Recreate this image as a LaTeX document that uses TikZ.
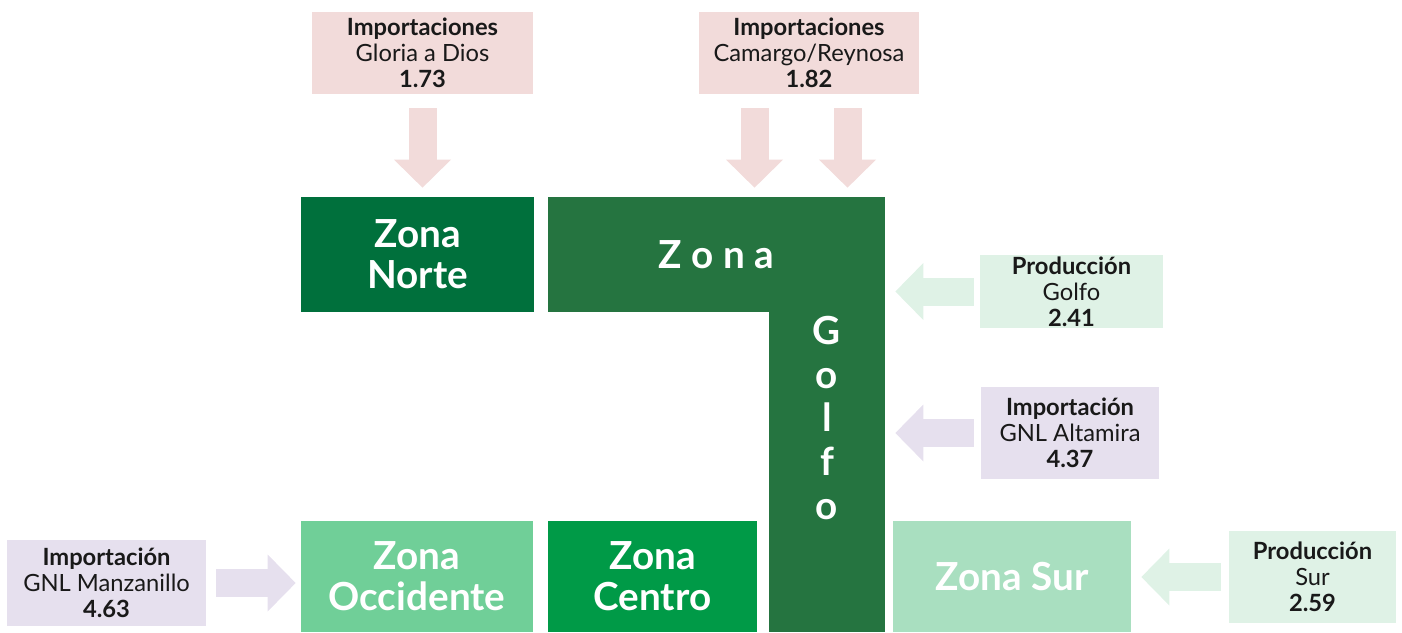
\documentclass[tikz,border=0pt]{standalone}
\usepackage{fontspec}
\setmainfont{Lato}
\usetikzlibrary{arrows.meta,positioning}
\definecolor{rosa}{HTML}{F2DBDA}
\definecolor{verdeclaro}{HTML}{DFF2E6}
\definecolor{lila}{HTML}{E6E0EE}
\definecolor{vnorte}{HTML}{00703C}
\definecolor{vgolfo}{HTML}{257440}
\definecolor{vcentro}{HTML}{009A47}
\definecolor{voccidente}{HTML}{70CF98}
\definecolor{vsur}{HTML}{A9DFC0}
\newcommand{\fuente}[1]{\textbf{#1}}

\tikzset{
  size/.style 2 args={minimum width=#1*0.02cm, minimum height=#2*0.02cm, inner sep=0pt},
  zone/.style={text=white, align=center, font=\fontsize{22}{23.5}\selectfont\bfseries},
  source/.style={text=black!90, align=center, font=\fontsize{13.5}{14.8}\selectfont},
  fatarrow/.style={line width=0.56cm, -{Triangle[width=1.14cm,length=0.56cm,line width=0pt]}}
}

\begin{document}
\begin{tikzpicture}[x=0.02cm, y=-0.02cm]
  \useasboundingbox (0,0) rectangle (1402,632);

  % fuentes de suministro
  \node[source, fill=rosa, size={221}{82}] (gloria) at (422.5,53) {\fuente{Importaciones}\\Gloria a Dios\\\fuente{1.73}};
  \node[source, fill=rosa, size={220}{82}] (camargo) at (809,53) {\fuente{Importaciones}\\Camargo/Reynosa\\\fuente{1.82}};
  \node[source, fill=verdeclaro, size={183}{73}] (prodgolfo) at (1071.5,291.5) {\fuente{Producción}\\Golfo\\\fuente{2.41}};
  \node[source, fill=lila, size={178}{92}] (altamira) at (1070,433) {\fuente{Importación}\\GNL Altamira\\\fuente{4.37}};
  \node[source, fill=verdeclaro, size={167}{92}] (prodsur) at (1312.5,577) {\fuente{Producción}\\Sur\\\fuente{2.59}};
  \node[source, fill=lila, size={199}{86}] (manzanillo) at (106.5,583) {\fuente{Importación}\\GNL Manzanillo\\\fuente{4.63}};

  % zonas
  \node[zone, fill=vnorte, size={233}{115}] (norte) at (417.5,254.5) {Zona\\Norte};
  \node[fill=vgolfo, size={116}{435}] (golfobar) at (827,414.5) {};
  \node[zone, fill=vgolfo, size={337}{115}] (golfotop) at (716.5,254.5) {Z o n a};
  \node[zone, font=\fontsize{22}{25}\selectfont\bfseries] (golfotxt) at (827,418) {G\\o\\l\\f\\o};
  \node[zone, fill=voccidente, size={232}{111}] (occidente) at (417,576.5) {Zona\\Occidente};
  \node[zone, fill=vcentro, size={209}{111}] (centro) at (652.5,576.5) {Zona\\Centro};
  \node[zone, fill=vsur, size={238}{111}] (sur) at (1012,576.5) {Zona Sur};

  % flujos
  \draw[fatarrow, rosa, shorten <=0.28cm, shorten >=0.18cm] (gloria.south) -- (gloria.south |- norte.north);
  \draw[fatarrow, rosa, shorten <=0.28cm, shorten >=0.18cm] ([xshift=-1.09cm]camargo.south) -- ([xshift=-1.09cm]camargo.south |- golfotop.north);
  \draw[fatarrow, rosa, shorten <=0.28cm, shorten >=0.18cm] ([xshift=0.77cm]camargo.south) -- ([xshift=0.77cm]camargo.south |- golfotop.north);
  \draw[fatarrow, verdeclaro, shorten <=0.12cm, shorten >=0.2cm] (prodgolfo.west) -- (prodgolfo.west -| golfobar.east);
  \draw[fatarrow, lila, shorten <=0.14cm, shorten >=0.2cm] (altamira.west) -- (altamira.west -| golfobar.east);
  \draw[fatarrow, verdeclaro, shorten <=0.16cm, shorten >=0.2cm] (prodsur.west) -- (prodsur.west -| sur.east);
  \draw[fatarrow, lila, shorten <=0.2cm, shorten >=0.1cm] (manzanillo.east) -- (manzanillo.east -| occidente.west);
\end{tikzpicture}
\end{document}
